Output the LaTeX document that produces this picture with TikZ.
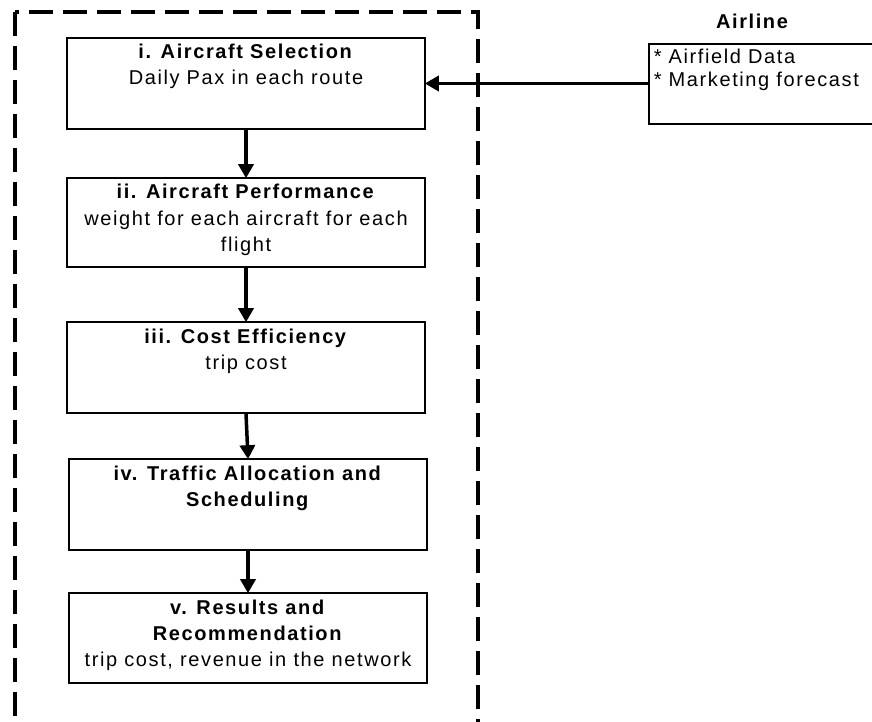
\documentclass[tikz,border=0pt]{standalone}
\usepackage{fontspec}
\setmainfont{Liberation Sans}[LetterSpace=8]
\usetikzlibrary{arrows.meta}
\tikzset{
  stepbox/.style={draw=black, line width=1.6pt, inner sep=0pt, fill=white},
  flow/.style={line width=3.5pt, -{Triangle[length=14pt,width=15pt]}, shorten >=-1pt},
  frame/.style={line width=4.5pt, dash pattern=on 24pt off 10pt},
}
\newcommand{\boxtext}[3]{\begin{minipage}[c][#1][t]{#2}\centering\fontsize{20}{26}\selectfont\rule{0pt}{21pt}#3\end{minipage}}
\begin{document}
\begin{tikzpicture}[x=1pt,y=-1pt]
\useasboundingbox (0,0) rectangle (872,722);
\draw[frame] (15,12) rectangle (478,724.2);
\node[stepbox] (s1) at (246,83.5) {\boxtext{91pt}{358pt}{\textbf{i. Aircraft Selection}\\Daily Pax in each route}};
\node[stepbox] (s2) at (246,222.5) {\boxtext{89pt}{358pt}{\textbf{ii. Aircraft Performance}\\weight for each aircraft for each\\flight}};
\node[stepbox] (s3) at (246,367.5) {\boxtext{91pt}{358pt}{\textbf{iii. Cost Efficiency}\\trip cost}};
\node[stepbox] (s4) at (248,504.5) {\boxtext{91pt}{358pt}{\textbf{iv. Traffic Allocation and}\\\textbf{Scheduling}}};
\node[stepbox] (s5) at (248,638) {\boxtext{90pt}{358pt}{\textbf{v. Results and}\\\textbf{Recommendation}\\trip cost, revenue in the network}};
\node[stepbox, anchor=north west] (air) at (648,43) {\begin{minipage}[c][80pt][t]{240pt}\fontsize{20}{23}\selectfont\hspace*{5pt}\rule{0pt}{20pt}* Airfield Data\\\hspace*{5pt}* Marketing forecast\end{minipage}};
\node[anchor=base, font=\fontsize{20}{24}\selectfont\bfseries, inner sep=0pt] (airtitle) at (752,29) {Airline};
\draw[flow] (s1.south) -- (s2.north);
\draw[flow] (s2.south) -- (s3.north);
\draw[flow] (s3.south) -- (s4.north);
\draw[flow] (s4.south) -- (s5.north);
\draw[flow] (air.west |- s1.east) -- (s1.east);
\end{tikzpicture}
\end{document}
